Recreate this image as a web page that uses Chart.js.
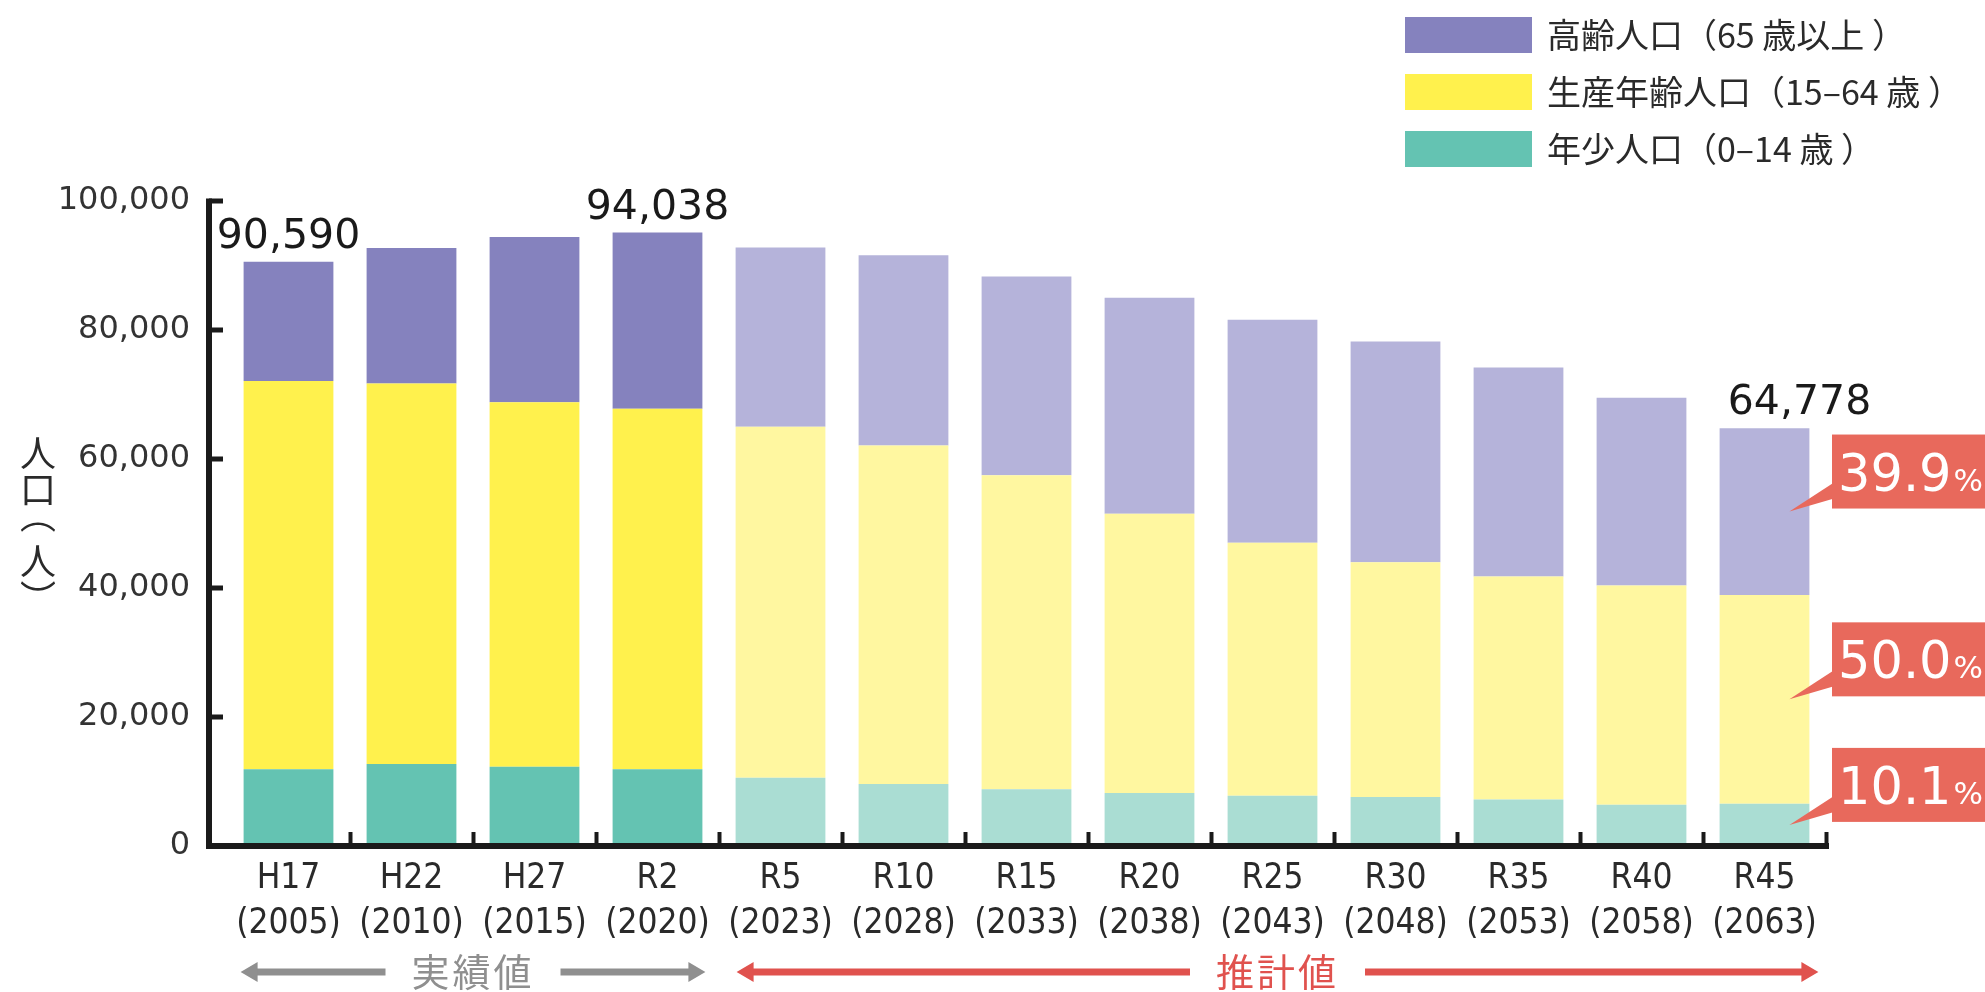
<!DOCTYPE html>
<html lang="ja">
<head>
<meta charset="utf-8">
<title>人口の推移と将来推計</title>
<script src="https://cdn.jsdelivr.net/npm/chart.js@4.4.1/dist/chart.umd.min.js"></script>
<style>
  html, body { margin: 0; padding: 0; background: #fff; }
  #wrap { width: 1985px; height: 992px; }
</style>
</head>
<body>
<div id="wrap"><canvas id="popChart" width="1985" height="992"></canvas></div>
<script>
// 年次ラベル
const eraLabels  = ['H17', 'H22', 'H27', 'R2', 'R5', 'R10', 'R15', 'R20', 'R25', 'R30', 'R35', 'R40', 'R45'];
const yearLabels = ['(2005)', '(2010)', '(2015)', '(2020)', '(2023)', '(2028)', '(2033)', '(2038)', '(2043)', '(2048)', '(2053)', '(2058)', '(2063)'];

// 人口（人）  下から順に積む
const youngPop   = [11900, 12700, 12300, 11900, 10600, 9600, 8800, 8200, 7800, 7600, 7200, 6400, 6543];
const workingPop = [60200, 59000, 56500, 55900, 54400, 52500, 48700, 43300, 39200, 36400, 34600, 34000, 32389];
const elderlyPop = [18490, 21000, 25600, 27300, 27800, 29500, 30800, 33500, 34600, 34200, 32400, 29100, 25846];

const seriesNames = ['年少人口（0–14 歳 ）', '生産年齢人口（15–64 歳 ）', '高齢人口（65 歳以上 ）'];

const yTicks = [0, 20000, 40000, 60000, 80000, 100000];

// 総数ラベル
const totalIndex = [0, 3, 12];
const totalText  = ['90,590', '94,038', '64,778'];

const actualCount = 4;          // 実績値の本数（残りは推計値）
const rangeNames  = ['実績値', '推計値'];
const yTitleChars = ['人', '口', '︵', '人', '︶'];

// colours: [実績, 推計]
const COLORS = [
  ['#64c3b2', '#aaddd3'],   // 年少
  ['#fff14d', '#fff7a0'],   // 生産年齢
  ['#8582be', '#b5b3da']    // 高齢
];
const AXIS_COLOR = '#1a1a1a';
const TEXT_COLOR = '#2a2a2a';
const CALLOUT_RED = '#e8695c';
const CJK = '"Noto Sans CJK JP", "Noto Sans", sans-serif';
const NUM = '"DejaVu Sans", sans-serif';
const NARROW = '"DejaVu Sans Condensed", "Liberation Sans Narrow", sans-serif';

const seriesData = [youngPop, workingPop, elderlyPop];

// —— axis lines (y axis sits a little left of the first category) ——
const axisLines = {
  id: 'axisLines',
  afterDraw(chart) {
    const { ctx, chartArea, scales: { y } } = chart;
    const ax = chartArea.left - 18;
    const topPx = y.getPixelForValue(yTicks[yTicks.length - 1]);
    ctx.save();
    ctx.strokeStyle = AXIS_COLOR;
    ctx.lineWidth = 6;
    ctx.beginPath();
    ctx.moveTo(ax, topPx - 2.5);
    ctx.lineTo(ax, chartArea.bottom + 3);
    ctx.moveTo(ax - 3, chartArea.bottom);
    ctx.lineTo(chartArea.right + 3, chartArea.bottom);
    ctx.stroke();
    // inward ticks
    ctx.lineWidth = 5;
    ctx.beginPath();
    yTicks.forEach(v => {
      if (v === 0) return;
      const py = y.getPixelForValue(v);
      ctx.moveTo(ax, py);
      ctx.lineTo(ax + 14, py);
    });
    ctx.stroke();
    ctx.restore();
  }
};

// —— vertical axis title 人口（人） ——
const yTitle = {
  id: 'yTitle',
  afterDraw(chart) {
    const { ctx, chartArea } = chart;
    const mid = (chartArea.top + chartArea.bottom) / 2;
    const offsets = [-71, -33, 3, 37, 62];
    ctx.save();
    ctx.fillStyle = TEXT_COLOR;
    ctx.font = '36px ' + CJK;
    ctx.textAlign = 'center';
    ctx.textBaseline = 'alphabetic';
    yTitleChars.forEach((ch, i) => {
      // centre the ink of each glyph on its slot
      const m = ctx.measureText(ch);
      const inkMid = (m.actualBoundingBoxAscent - m.actualBoundingBoxDescent) / 2;
      ctx.fillText(ch, 38, mid + offsets[i] + inkMid);
    });
    ctx.restore();
  }
};

// —— legend (top right, 高齢 first) ——
const sideLegend = {
  id: 'sideLegend',
  afterDraw(chart) {
    const { ctx } = chart;
    const x0 = chart.width - 580;
    ctx.save();
    ctx.font = '34px ' + CJK;
    ctx.textBaseline = 'middle';
    ctx.textAlign = 'left';
    [2, 1, 0].forEach((d, row) => {
      const cy = 35 + row * 57;
      ctx.fillStyle = COLORS[d][0];
      ctx.fillRect(x0, cy - 18, 127, 36);
      ctx.fillStyle = TEXT_COLOR;
      ctx.fillText(chart.data.datasets[d].label, x0 + 142, cy);
    });
    ctx.restore();
  }
};

// —— total labels above selected bars ——
const totalLabels = {
  id: 'totalLabels',
  afterDraw(chart) {
    const { ctx } = chart;
    const topMeta = chart.getDatasetMeta(2);
    const dx = [0, 0, 35];
    ctx.save();
    ctx.font = '41px ' + NUM;
    ctx.fillStyle = '#1a1a1a';
    ctx.textAlign = 'center';
    ctx.textBaseline = 'alphabetic';
    totalIndex.forEach((idx, k) => {
      const bar = topMeta.data[idx];
      ctx.fillText(totalText[k], bar.x + dx[k], bar.y - 14);
    });
    ctx.restore();
  }
};

// —— percentage callouts for the last bar ——
const callouts = {
  id: 'callouts',
  afterDraw(chart) {
    const { ctx, chartArea } = chart;
    const last = eraLabels.length - 1;
    const total = seriesData.reduce((s, arr) => s + arr[last], 0);
    ctx.save();
    seriesData.forEach((arr, d) => {
      const bar = chart.getDatasetMeta(d).data[last];
      const segMid = (bar.y + bar.base) / 2;
      const tipX = bar.x + bar.width / 2 - 20;
      const boxL = chartArea.right + 6;
      const boxT = segMid - 77;
      const boxB = segMid - 3;
      ctx.fillStyle = CALLOUT_RED;
      ctx.fillRect(boxL, boxT, chart.width - boxL + 10, boxB - boxT);
      ctx.beginPath();
      ctx.moveTo(boxL + 2, boxB - 26);
      ctx.lineTo(tipX, segMid);
      ctx.lineTo(boxL + 2, boxB - 10);
      ctx.closePath();
      ctx.fill();
      const pct = (arr[last] / total * 100).toFixed(1);
      ctx.fillStyle = '#fff';
      ctx.textBaseline = 'alphabetic';
      ctx.textAlign = 'left';
      ctx.font = '51px ' + NUM;
      const base = (boxT + boxB) / 2 + 19;
      ctx.fillText(pct, boxL + 6, base);
      const w = ctx.measureText(pct).width;
      ctx.font = '31px ' + NUM;
      ctx.fillText('%', boxL + 8 + w, base);
    });
    ctx.restore();
  }
};

// —— 実績値 / 推計値 range arrows ——
function rangeArrow(ctx, x1, x2, y, label, color) {
  ctx.save();
  ctx.font = '38px ' + CJK;
  ctx.letterSpacing = '3px';
  const tw = ctx.measureText(label).width;
  const mid = (x1 + x2) / 2;
  const gap = 26, head = 17, half = 10;
  ctx.strokeStyle = color;
  ctx.fillStyle = color;
  ctx.lineWidth = 7;
  ctx.beginPath();
  ctx.moveTo(x1 + head - 2, y);
  ctx.lineTo(mid - tw / 2 - gap, y);
  ctx.moveTo(mid + tw / 2 + gap, y);
  ctx.lineTo(x2 - head + 2, y);
  ctx.stroke();
  ctx.beginPath();
  ctx.moveTo(x1, y); ctx.lineTo(x1 + head, y - half); ctx.lineTo(x1 + head, y + half); ctx.closePath();
  ctx.moveTo(x2, y); ctx.lineTo(x2 - head, y - half); ctx.lineTo(x2 - head, y + half); ctx.closePath();
  ctx.fill();
  ctx.textAlign = 'center';
  ctx.textBaseline = 'middle';
  ctx.fillText(label, mid, y);
  ctx.restore();
}

const rangeArrows = {
  id: 'rangeArrows',
  afterDraw(chart) {
    const bars = chart.getDatasetMeta(0).data;
    const left  = i => bars[i].x - bars[i].width / 2;
    const right = i => bars[i].x + bars[i].width / 2;
    const y = 972;
    rangeArrow(chart.ctx, left(0) - 3, right(actualCount - 1) + 3, y, rangeNames[0], '#8f8f8f');
    rangeArrow(chart.ctx, left(actualCount) + 1, right(eraLabels.length - 1) + 9, y, rangeNames[1], '#e0524e');
  }
};

const ctx = document.getElementById('popChart').getContext('2d');

new Chart(ctx, {
  type: 'bar',
  data: {
    labels: eraLabels.map((e, i) => [e, yearLabels[i]]),
    datasets: seriesData.map((arr, d) => ({
      label: seriesNames[d],
      data: arr,
      backgroundColor: c => COLORS[d][c.dataIndex < actualCount ? 0 : 1],
      borderWidth: 0,
      barPercentage: 0.73,
      categoryPercentage: 1.0
    }))
  },
  options: {
    responsive: false,
    animation: false,
    devicePixelRatio: 1,
    layout: { padding: { left: 0, right: 159, top: 201, bottom: 0 } },
    plugins: {
      legend: { display: false },
      tooltip: { enabled: false }
    },
    scales: {
      x: {
        stacked: true,
        z: 1,
        border: { display: false },
        grid: {
          offset: true,
          drawOnChartArea: false,
          drawTicks: true,
          tickLength: -14,
          tickWidth: 4,
          tickColor: c => c.index === 0 ? 'rgba(0,0,0,0)' : AXIS_COLOR
        },
        ticks: {
          autoSkip: false,
          maxRotation: 0,
          padding: 25,
          color: TEXT_COLOR,
          font: { family: NARROW, size: 35, lineHeight: 1.28 }
        },
        afterFit: scale => { scale.height = 146; }
      },
      y: {
        stacked: true,
        min: 0,
        max: 100000,
        border: { display: false },
        grid: { display: false, drawTicks: false },
        afterBuildTicks: scale => { scale.ticks = yTicks.map(v => ({ value: v })); },
        ticks: {
          padding: 37,
          color: '#333',
          font: { family: NUM, size: 32 },
          callback: v => v.toLocaleString('en-US')
        },
        afterFit: scale => { scale.width = 227; }
      }
    }
  },
  plugins: [axisLines, yTitle, sideLegend, totalLabels, callouts, rangeArrows]
});
</script>
</body>
</html>
